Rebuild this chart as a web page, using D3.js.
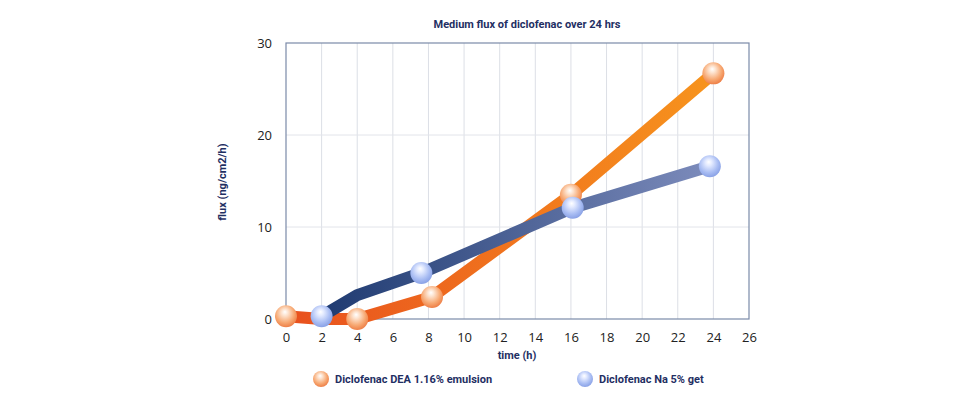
<!DOCTYPE html>
<html><head><meta charset="utf-8">
<script src="https://cdn.jsdelivr.net/npm/d3@7/dist/d3.min.js"></script>
<style>body{margin:0;background:#fff}svg{display:block}</style>
</head><body><svg id="c" width="970" height="416"></svg>
<script>
const title = "Medium flux of diclofenac over 24 hrs";
const xTicks = [0,2,4,6,8,10,12,14,16,18,20,22,24,26];
const yTicks = [0,10,20,30];
const seriesNames = ["Diclofenac DEA 1.16% emulsion", "Diclofenac Na 5% get"];
// DEA emulsion
const deaTime = [0, 2, 4, 8.2, 16, 24];
const deaFlux = [0.3, 0, 0, 2.4, 13.5, 26.7];
const deaMarker = [true, false, true, true, true, true];
// Na gel
const naTime = [2, 4, 7.6, 16.1, 23.8];
const naFlux = [0.3, 2.6, 5.0, 12.1, 16.6];
const naMarker = [true, false, true, true, true];

const svg = d3.select("#c");
const W = 970, H = 416;
const x = d3.scaleLinear().domain([0,26]).range([286,749]);
const y = d3.scaleLinear().domain([0,30]).range([319,43]);
const font = "'Open Sans', 'DejaVu Sans', sans-serif";
const navy = "#1f2f63";

const defs = svg.append("defs");
function lg(id, c1, c2){
  const g = defs.append("linearGradient").attr("id", id).attr("gradientUnits","userSpaceOnUse")
    .attr("x1", x(0)).attr("x2", x(24)).attr("y1",0).attr("y2",0);
  g.append("stop").attr("offset","0%").attr("stop-color",c1);
  g.append("stop").attr("offset","100%").attr("stop-color",c2);
}
lg("gOrange", "#e8501e", "#f7941d");
lg("gBlue", "#16336a", "#7d8cbc");
function rg(id, stops){
  const g = defs.append("radialGradient").attr("id", id).attr("cx","45%").attr("cy","40%").attr("r","60%").attr("fx","45%").attr("fy","30%");
  stops.forEach(s => g.append("stop").attr("offset", s[0]).attr("stop-color", s[1]));
}
rg("mOrange", [["0%","#ffffff"],["25%","#fde3cf"],["70%","#f7a872"],["100%","#ee8048"]]);
rg("mBlue", [["0%","#ffffff"],["25%","#e3eaff"],["70%","#a9bdf3"],["100%","#8aa2e6"]]);

// grid
const grid = svg.append("g");
grid.selectAll("line.v").data(xTicks.slice(1,-1)).join("line")
  .attr("x1", d=>x(d)).attr("x2", d=>x(d)).attr("y1", y(30)).attr("y2", y(0))
  .attr("stroke","#dcdfe6").attr("stroke-width",1);
grid.selectAll("line.h").data(yTicks.slice(1,-1)).join("line")
  .attr("x1", x(0)).attr("x2", x(26)).attr("y1", d=>y(d)).attr("y2", d=>y(d))
  .attr("stroke","#e2e4ea").attr("stroke-width",1);
svg.append("rect").attr("x", x(0)).attr("y", y(30)).attr("width", x(26)-x(0)).attr("height", y(0)-y(30))
  .attr("fill","none").attr("stroke","#7b8aa8").attr("stroke-width",1.2);

// axes
const xAxis = svg.append("g").attr("transform",`translate(0,${y(0)})`)
  .call(d3.axisBottom(x).tickValues(xTicks).tickSize(0).tickPadding(14));
xAxis.select(".domain").remove();
xAxis.selectAll("text").attr("font-family", font).attr("font-size", 13).attr("fill","#222");
const yAxis = svg.append("g").attr("transform",`translate(${x(0)},0)`)
  .call(d3.axisLeft(y).tickValues(yTicks).tickSize(0).tickPadding(14));
yAxis.select(".domain").remove();
yAxis.selectAll("text").attr("font-family", font).attr("font-size", 13).attr("fill","#222");

// lines
const line = d3.line().x(d=>x(d[0])).y(d=>y(d[1]));
const dea = deaTime.map((t,i)=>[t, deaFlux[i], deaMarker[i]]);
const na = naTime.map((t,i)=>[t, naFlux[i], naMarker[i]]);
svg.append("path").datum(dea).attr("d", line).attr("fill","none").attr("stroke","url(#gOrange)").attr("stroke-width",12).attr("stroke-linejoin","round");
svg.append("path").datum(na).attr("d", line).attr("fill","none").attr("stroke","url(#gBlue)").attr("stroke-width",12).attr("stroke-linejoin","round");

function markers(data, fill){
  svg.append("g").selectAll("circle").data(data.filter(d=>d[2])).join("circle")
    .attr("cx", d=>x(d[0])).attr("cy", d=>y(d[1])).attr("r", 11).attr("fill", fill);
}
markers(dea, "url(#mOrange)");
markers(na, "url(#mBlue)");

// texts
const tfont = "'Roboto', 'Open Sans', sans-serif";
svg.append("text").attr("x", 527).attr("y", 28).attr("text-anchor","middle")
  .attr("font-family", tfont).attr("font-weight","bold").attr("font-size", 11).attr("fill", navy).text(title);
svg.append("text").attr("x", 517).attr("y", 359).attr("text-anchor","middle")
  .attr("font-family", tfont).attr("font-weight","bold").attr("font-size", 11).attr("fill", navy).text("time (h)");
svg.append("text").attr("transform","translate(222,182) rotate(-90)").attr("text-anchor","middle").attr("dy","0.35em")
  .attr("font-family", tfont).attr("font-weight","bold").attr("font-size", 11).attr("fill", navy).text("flux (ng/cm2/h)");

// legend
const leg = [{x:321, fill:"url(#mOrange)", name: seriesNames[0]}, {x:585, fill:"url(#mBlue)", name: seriesNames[1]}];
const lgG = svg.append("g").selectAll("g").data(leg).join("g").attr("transform", d=>`translate(${d.x},379)`);
lgG.append("circle").attr("r", 8).attr("fill", d=>d.fill);
lgG.append("text").attr("x", 14).attr("dy","0.35em").attr("font-family", tfont).attr("font-weight","bold")
  .attr("font-size", 11).attr("fill", navy).text(d=>d.name);
</script></body></html>
